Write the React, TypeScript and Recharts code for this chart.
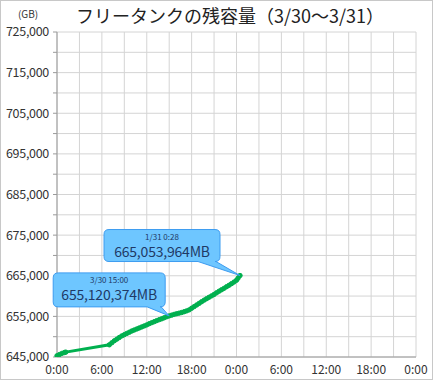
import React from 'react';
import { LineChart, Line, XAxis, YAxis, CartesianGrid, ReferenceDot } from 'recharts';

const hours = [0, 0.33, 0.67, 1, 1.17, 7, 7.33, 7.67, 8, 8.33, 8.67, 9, 9.33, 9.67, 10, 10.33, 10.67, 11, 11.33, 11.67, 12, 12.33, 12.67, 13, 13.33, 13.67, 14, 14.33, 14.67, 15, 15.33, 15.67, 16, 16.33, 16.67, 17, 17.33, 17.67, 18, 18.33, 18.67, 19, 19.33, 19.67, 20, 20.33, 20.67, 21, 21.33, 21.67, 22, 22.33, 22.67, 23, 23.33, 23.67, 24, 24.2, 24.47];
const capacity = [645300, 645600, 645900, 646100, 646200, 648000, 648500, 649000, 649400, 649800, 650200, 650500, 650800, 651100, 651400, 651650, 651900, 652150, 652400, 652650, 652900, 653200, 653450, 653700, 653950, 654200, 654400, 654650, 654900, 655120, 655300, 655500, 655650, 655800, 655950, 656150, 656350, 656600, 657000, 657400, 657800, 658200, 658600, 659000, 659350, 659700, 660050, 660400, 660800, 661200, 661550, 661900, 662300, 662650, 663050, 663450, 663900, 664400, 665054];

const xTicks = [0, 3, 6, 9, 12, 15, 18, 21, 24, 27, 30, 33, 36, 39, 42, 45, 48];
const yTicks = [645000, 650000, 655000, 660000, 665000, 670000, 675000, 680000, 685000, 690000, 695000, 700000, 705000, 710000, 715000, 720000, 725000];

const titleText = 'フリータンクの残容量（3/30～3/31）';
const unitText = '(GB)';

const callouts = [
  { x: 15, y: 655120, time: '3/30 15:00', value: '655,120,374MB', box: [-116, -43, -4, -9], tail: [-22, -8] },
  { x: 24.47, y: 665054, time: '1/31 0:28', value: '665,053,964MB', box: [-136, -46, -20, -14], tail: [-42, -24] },
];

const data = hours.map((h, i) => ({ h, v: capacity[i] }));

const fmtX = (v: number) => (v % 6 === 0 ? `${(v % 24)}:00` : '');
const fmtY = (v: number) => ((v - 645000) % 10000 === 0 ? v.toLocaleString('en-US') : '');

const FONT = '"Noto Sans CJK JP", "Noto Sans", sans-serif';

function makeCallout(c: typeof callouts[number]) {
  return (props: any) => {
    const { cx, cy } = props;
    const [dx0, dy0, dx1, dy1] = c.box;
    const x0 = cx + dx0, y0 = cy + dy0, x1 = cx + dx1, y1 = cy + dy1;
    const ts = cx + c.tail[0], te = cx + c.tail[1];
    const r = 5;
    const d = `M ${x0 + r},${y0} H ${x1 - r} Q ${x1},${y0} ${x1},${y0 + r} V ${y1 - r} Q ${x1},${y1} ${x1 - r},${y1} H ${te} L ${cx},${cy} L ${ts},${y1} H ${x0 + r} Q ${x0},${y1} ${x0},${y1 - r} V ${y0 + r} Q ${x0},${y0} ${x0 + r},${y0} Z`;
    const mx = (x0 + x1) / 2;
    return (
      <g>
        <path d={d} fill="#6ec6ff" stroke="#3d9cf0" strokeWidth={1} />
        <text x={mx} y={y0 + 10} textAnchor="middle" fontSize={8} fill="#1f3a66" fontFamily={FONT}>{c.time}</text>
        <text x={mx} y={y0 + 27} textAnchor="middle" fontSize={14} fill="#1f3a66" fontFamily={FONT} letterSpacing={-0.2}>{c.value}</text>
      </g>
    );
  };
}

export default function App() {
  return (
    <div style={{ position: 'absolute', left: 0, top: 0, width: 433, height: 380, boxSizing: 'border-box', border: '1px solid #c8c8c8', background: '#fff' }}>
      <div style={{ position: 'absolute', left: -1, top: -1 }}>
        <LineChart width={433} height={380} data={data} margin={{ top: 32, right: 17, bottom: 3, left: 0 }}>
          <CartesianGrid stroke="#d4d4d4" strokeWidth={1} />
          <XAxis
            dataKey="h"
            type="number"
            domain={[0, 48]}
            ticks={xTicks}
            tickFormatter={fmtX}
            interval={0}
            height={20}
            stroke="#9a9a9a"
            tickLine={false}
            tick={{ fontSize: 12, fill: '#333', fontFamily: FONT }}
            tickMargin={2}
          />
          <YAxis
            type="number"
            domain={[645000, 725000]}
            ticks={yTicks}
            tickFormatter={fmtY}
            interval={0}
            width={57}
            stroke="#9a9a9a"
            tickSize={4}
            tickMargin={4}
            tick={{ fontSize: 12.5, fill: '#333', fontFamily: FONT, letterSpacing: -0.3 }}
            allowDataOverflow
          />
          <Line
            dataKey="v"
            stroke="#00b04f"
            strokeWidth={3}
            dot={{ r: 2.2, fill: '#00b04f', stroke: '#00b04f', strokeWidth: 1 }}
            isAnimationActive={false}
          />
          {callouts.map((c, i) => (
            <ReferenceDot key={i} x={c.x} y={c.y} r={0} shape={makeCallout(c)} ifOverflow="visible" />
          ))}
          <text x={230} y={23} textAnchor="middle" fontSize={18} fill="#222" fontFamily={FONT}>{titleText}</text>
          <text x={28} y={18} textAnchor="middle" fontSize={10} fill="#333" fontFamily={FONT}>{unitText}</text>
        </LineChart>
      </div>
    </div>
  );
}
